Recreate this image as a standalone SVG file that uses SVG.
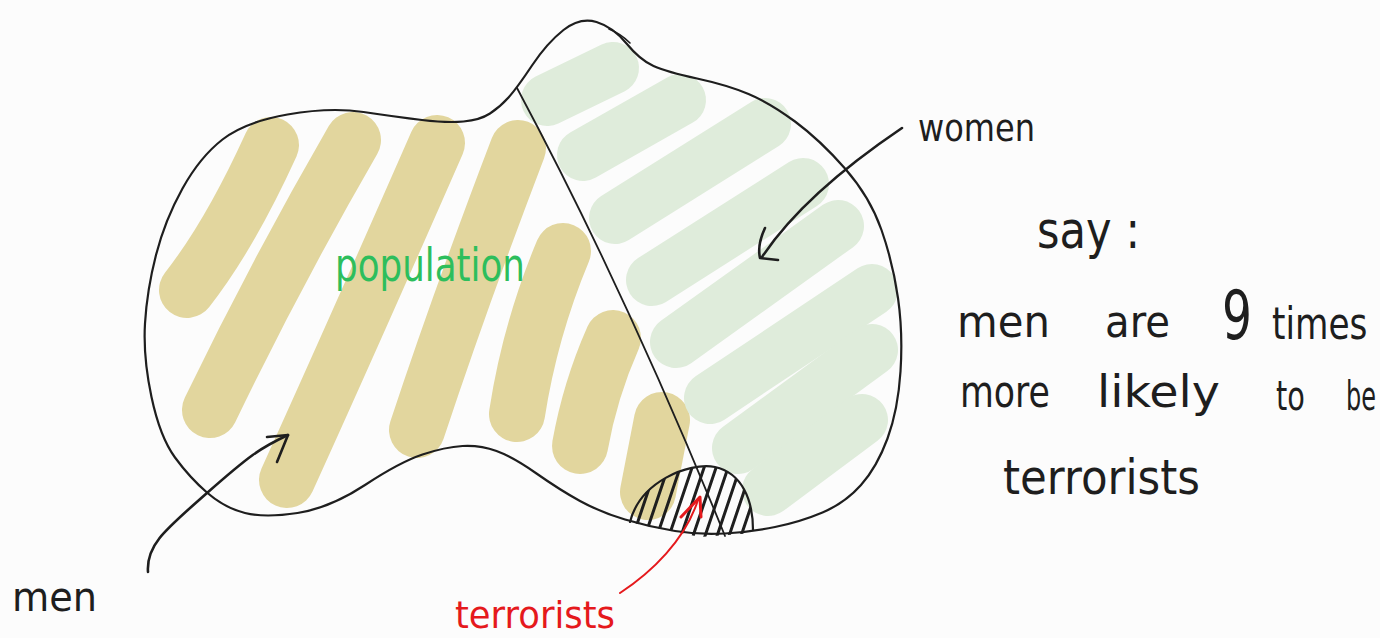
<svg xmlns="http://www.w3.org/2000/svg" width="1380" height="638" viewBox="0 0 1380 638">
<style>
.tan{fill:none;stroke:#e2d69e;stroke-width:56;stroke-linecap:round;stroke-linejoin:round}
.grn{fill:none;stroke:#dfecdb;stroke-width:52;stroke-linecap:round}
.ink{fill:none;stroke:#1e1e1e;stroke-linecap:round;stroke-linejoin:round}
.red{fill:none;stroke:#e5191c;stroke-linecap:round;stroke-linejoin:round}
.t{font-family:"DejaVu Sans","Liberation Sans",sans-serif;fill:#1e1e1e}
</style>
<defs>
<clipPath id="hatchClip">
<path d="M628,522 C640,482 688,462 715,467 C742,473 753,500 754,533 L700,537 L628,522 Z"/>
</clipPath>
</defs>
<rect width="1380" height="638" fill="#fcfcfc"/>

<g id="men-fill">
<path class="tan" d="M187,290 Q230,235 271,145"/>
<path class="tan" d="M210,410 Q275,275 353,140"/>
<path class="tan" d="M287,480 Q355,330 437,143"/>
<path class="tan" d="M417,430 Q460,300 518,148"/>
<path class="tan" d="M517,414 Q530,330 563,251"/>
<path class="tan" d="M580,446 Q590,390 613,338"/>
<path class="tan" d="M648,492 L662,420"/>
</g>

<g id="women-fill">
<path class="grn" d="M547,100 L613,68"/>
<path class="grn" d="M583,155 L680,100"/>
<path class="grn" d="M615,218 L765,124"/>
<path class="grn" d="M652,280 L803,184"/>
<path class="grn" d="M676,342 L838,226"/>
<path class="grn" d="M710,398 L872,290"/>
<path class="grn" d="M738,448 L872,350"/>
<path class="grn" d="M768,490 L862,420"/>
</g>

<g id="population">
<path class="ink" stroke-width="2.2" d="M508.5,97.5 Q517,88 532,65.5 Q547,43 563.5,30 Q580,17 596.5,22 Q613,27 626.5,43.5 Q640,60 653.5,66 Q667,72 697,78.5 Q727,85 748.5,94 Q770,103 795,121.5 Q820,140 845,168.5 Q870,197 881.5,230 Q893,263 898,298 Q903,333 900.5,371.5 Q898,410 887.5,438.5 Q877,467 861,485 Q845,503 822.5,512.5 Q800,522 775,527 Q750,532 725,533.5 Q700,535 675,531 Q650,527 625,519.5 Q600,512 580,501 Q560,490 536.5,473.5 Q513,457 496.5,451 Q480,445 462.5,446 Q445,447 422.5,454.5 Q400,462 365,485 Q330,508 297.5,513 Q265,518 245,513 Q225,508 207.5,493 Q190,478 175,457.5 Q160,437 151.5,397 Q143,357 145,323.5 Q147,290 156,255 Q165,220 182.5,188.5 Q200,157 222.5,139.5 Q245,122 287.5,114.5 Q330,107 363.5,112 Q397,117 422,120 Q447,123 463.5,121.5 Q480,120 490,113.5 Q500,107 508.5,97.5 Z"/>
<path class="ink" stroke-width="1.6" d="M609,29 Q621,34 630,43"/>
<text class="t" x="335" y="281" font-size="46" textLength="190" lengthAdjust="spacingAndGlyphs" style="fill:#2dbe5c">population</text>
</g>

<g id="divider">
<path class="ink" stroke-width="1.8" d="M517,88 Q625,290 725,536"/>
</g>

<g id="terrorists">
<path class="ink" stroke-width="2.2" d="M630,522 C640,482 688,462 715,467 C742,473 753,500 753,530"/>
<g clip-path="url(#hatchClip)" class="ink" stroke-width="3">
<path d="M618,545 L650,450 M630,545 L662,450 M642,545 L674,450 M654,545 L686,450 M666,545 L698,450 M678,545 L710,450 M690,545 L722,450 M702,545 L734,450 M714,545 L746,450 M726,545 L758,450 M738,545 L770,450"/>
</g>
</g>

<g id="connectors">
<path class="ink" stroke-width="2.6" d="M148,572 C146,545 165,530 207,493 S260,448 288,435"/>
<path class="ink" stroke-width="2.6" d="M267,437 L288,435 L277,462"/>
<path class="ink" stroke-width="2.6" d="M902,128 C862,155 800,200 762,257"/>
<path class="ink" stroke-width="2.6" d="M765,228 Q757,245 760,258 L778,260"/>
<path class="red" stroke-width="2" d="M620,593 C652,572 685,540 698,500"/>
<path class="red" stroke-width="3" d="M681,517 L700,497 L701,517"/>
</g>

<g id="labels">
<text class="t" x="12" y="611" font-size="40" textLength="85" lengthAdjust="spacingAndGlyphs">men</text>
<text class="t" x="918" y="141" font-size="38" textLength="117" lengthAdjust="spacingAndGlyphs">women</text>
<text class="t" x="455" y="628" font-size="38" textLength="160" lengthAdjust="spacingAndGlyphs" style="fill:#e5191c">terrorists</text>
</g>

<g id="note">
<text class="t" x="1037" y="248" font-size="52" textLength="103" lengthAdjust="spacingAndGlyphs">say :</text>
<text class="t" x="957" y="337" font-size="44" textLength="93" lengthAdjust="spacingAndGlyphs">men</text>
<text class="t" x="1105" y="337" font-size="44" textLength="65" lengthAdjust="spacingAndGlyphs">are</text>
<text class="t" x="1222" y="339" font-size="68" textLength="30" lengthAdjust="spacingAndGlyphs">9</text>
<text class="t" transform="translate(1272,339) scale(0.78,1)" x="0" y="0" font-size="44">times</text>
<text class="t" x="960" y="407" font-size="44" textLength="90" lengthAdjust="spacingAndGlyphs">more</text>
<text class="t" x="1097" y="407" font-size="44" textLength="123" lengthAdjust="spacingAndGlyphs">likely</text>
<text class="t" transform="translate(1276,410) scale(0.72,1)" x="0" y="0" font-size="40">to</text>
<text class="t" transform="translate(1346,410) scale(0.6,1)" x="0" y="0" font-size="40">be</text>
<text class="t" x="1003" y="494" font-size="48" textLength="197" lengthAdjust="spacingAndGlyphs">terrorists</text>
</g>
</svg>
